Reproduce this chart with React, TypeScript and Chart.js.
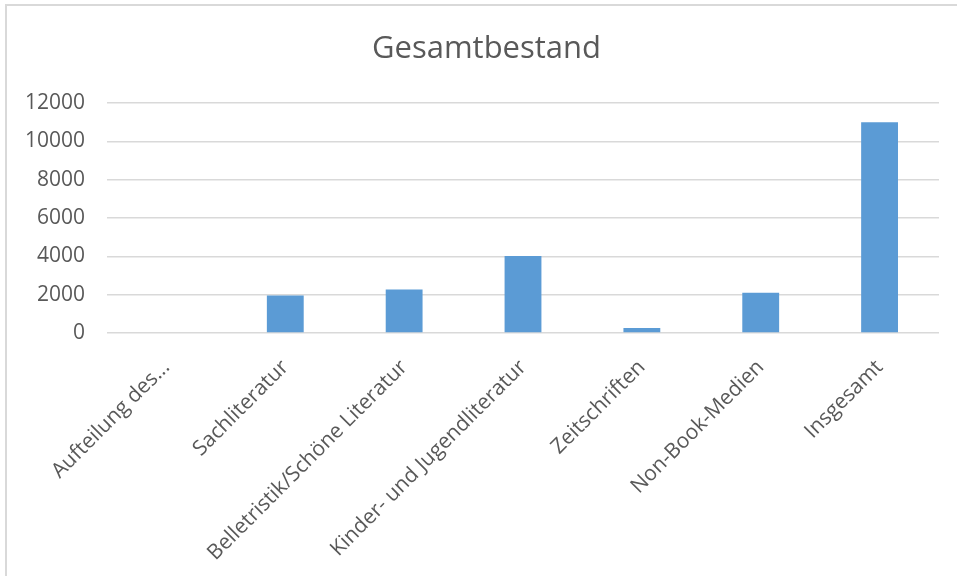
import React, { useEffect, useRef } from "react";
import { Chart, registerables } from "chart.js";

Chart.register(...registerables);

const categories = [
  "Aufteilung des...",
  "Sachliteratur",
  "Belletristik/Schöne Literatur",
  "Kinder- und Jugendliteratur",
  "Zeitschriften",
  "Non-Book-Medien",
  "Insgesamt",
];
const bestand: (number | null)[] = [null, 1960, 2270, 4020, 260, 2100, 11000];
const yMin = 0;
const yMax = 12000;
const yStep = 2000;
const chartTitle = "Gesamtbestand";

const FONT = "'Open Sans', 'Noto Sans', sans-serif";
const TEXT = "#595959";

export default function App() {
  const ref = useRef<HTMLCanvasElement | null>(null);

  useEffect(() => {
    if (!ref.current) return;
    const chart = new Chart(ref.current, {
      type: "bar",
      data: {
        labels: categories,
        datasets: [
          {
            label: chartTitle,
            data: bestand,
            backgroundColor: "#5B9BD5",
            borderWidth: 0,
            barPercentage: 0.31,
            categoryPercentage: 1,
          },
        ],
      },
      options: {
        responsive: false,
        animation: false,
        devicePixelRatio: 1,
        layout: { padding: { left: 16, right: 0, top: 0, bottom: 0 } },
        plugins: {
          legend: { display: false },
          tooltip: { enabled: false },
          title: {
            display: true,
            text: chartTitle,
            color: TEXT,
            font: { family: FONT, size: 31, weight: "normal" },
            padding: { top: 31, bottom: 35 },
          },
        },
        scales: {
          x: {
            grid: { display: false, drawTicks: false },
            border: { display: false },
            ticks: {
              color: TEXT,
              font: { family: FONT, size: 21 },
              minRotation: 45,
              maxRotation: 45,
              autoSkip: false,
              padding: 22,
            },
            afterFit: (scale: any) => {
              scale.height = 243;
            },
          },
          y: {
            min: yMin,
            max: yMax,
            grid: { color: "#d9d9d9", lineWidth: 1.5, drawTicks: false },
            border: { display: false },
            ticks: {
              stepSize: yStep,
              color: TEXT,
              font: { family: FONT, size: 21 },
              padding: 22,
              callback: (v: any) => String(v),
            },
            afterFit: (scale: any) => {
              scale.width = 91;
            },
          },
          spacer: {
            type: "linear",
            position: "right",
            display: true,
            grid: { display: false, drawTicks: false },
            border: { display: false },
            ticks: { display: false },
            afterFit: (scale: any) => {
              scale.width = 18;
            },
          },
        },
      },
    });
    return () => chart.destroy();
  }, []);

  return (
    <div style={{ position: "absolute", left: 0, top: 0, width: 957, height: 576, background: "#fff" }}>
      <div
        style={{
          position: "absolute",
          left: 5,
          top: 4,
          right: 0,
          bottom: 0,
          borderTop: "2px solid #d9d9d9",
          borderLeft: "2px solid #d9d9d9",
        }}
      />
      <canvas ref={ref} width={957} height={576} style={{ position: "absolute", left: 0, top: 0 }} />
    </div>
  );
}
